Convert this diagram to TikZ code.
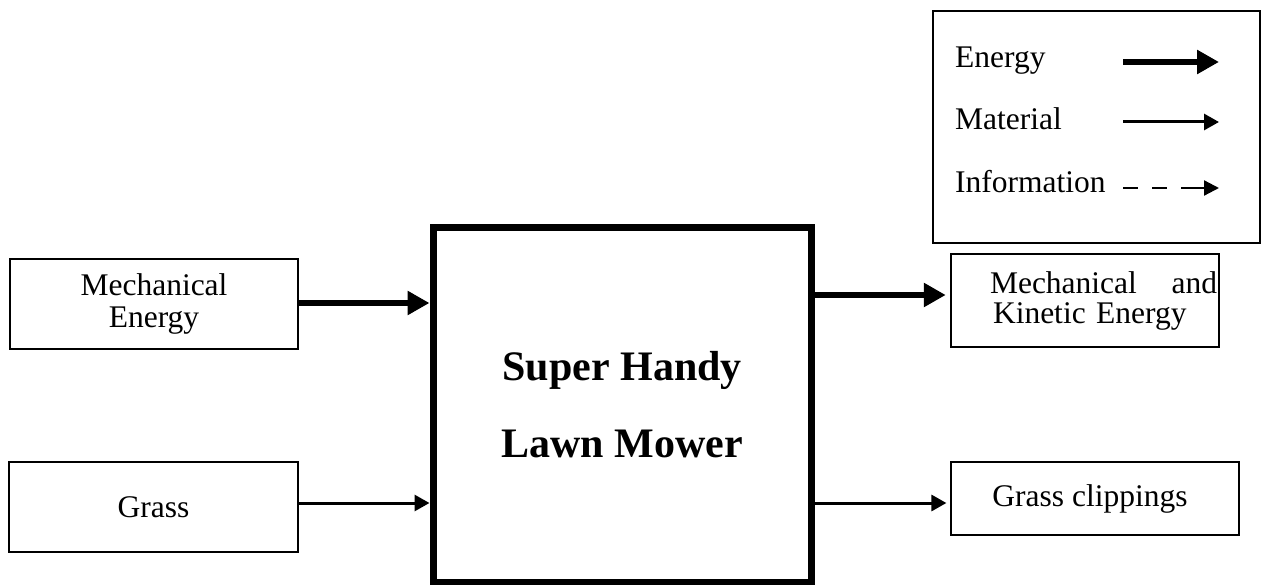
\documentclass[tikz,border=0pt]{standalone}
\usepackage{fontspec}
\setmainfont{Liberation Serif}
\usetikzlibrary{arrows.meta}
\begin{document}
\begin{tikzpicture}[x=1pt,y=-1pt,
  box/.style={draw, line width=1.2pt, inner sep=0pt, align=center,
    font=\fontsize{31.5}{32}\selectfont},
  legtext/.style={anchor=base west, inner sep=0pt, font=\fontsize{31.5}{32}\selectfont},
  energy/.style={line width=6pt, -{Triangle[length=22pt,width=23pt]}},
  material/.style={line width=3pt, -{Triangle[length=15pt,width=16pt]}},
  info/.style={line width=2.2pt, dash pattern=on 15pt off 14pt on 15pt off 14pt on 40pt off 1pt,
    -{Triangle[length=15pt,width=15pt]}}]
\useasboundingbox (0,0) rectangle (1266,585);

% legend
\node[draw, line width=2.5pt, minimum width=327pt, minimum height=232pt, inner sep=0pt] (legend) at (1096.5,127) {};
\node[legtext] (lenergy) at (955,68) {Energy};
\node[legtext] (lmaterial) at (955,130) {Material};
\node[legtext] (linfo) at (955,193) {Information};
\coordinate (e1) at (1123,62);  \coordinate (e2) at (1219,62);
\coordinate (m1) at (1123,122); \coordinate (m2) at (1219,122);
\coordinate (i1) at (1123,188); \coordinate (i2) at (1219,188);
\draw[energy] (e1) -- (e2);
\draw[material] (m1) -- (m2);
\draw[info] (i1) -- (i2);

% main block
\node[draw, line width=7pt, outer sep=3.5pt, minimum width=378.5pt, minimum height=354.5pt,
  inner sep=0pt, align=center, font=\fontsize{42}{77}\selectfont\bfseries] (main) at (622.25,404.75)
  {Super Handy\\Lawn Mower};

% inputs
\node[box, minimum width=288pt, minimum height=90pt] (mech) at (154,304) {Mechanical\\Energy};
\node[box, minimum width=289pt, minimum height=90pt] (grass) at (153.5,507) {Grass};

% outputs
\node[draw, line width=2.5pt, minimum height=93pt, inner sep=0pt, text width=268pt, align=left,
  font=\fontsize{31.5}{30}\selectfont] (mke) at (1085,300.5)
  {\hspace*{39pt}\hbox to 227pt{Mechanical\hfill and}\\\hspace*{42pt}Kinetic Energy};
\node[box, minimum width=288pt, minimum height=73pt] (clip) at (1095,498.5) {\hspace*{-10pt}Grass clippings};

% connectors
\draw[energy] ([yshift=1pt]mech.east) -- ([yshift=1pt]mech.east -| main.west);
\draw[material] ([yshift=4pt]grass.east) -- ([yshift=4pt]grass.east -| main.west);
\draw[energy, shorten >=4pt] ([yshift=5.5pt]mke.west -| main.east) -- ([yshift=5.5pt]mke.west);
\draw[material, shorten >=4pt] ([yshift=-4.5pt]clip.west -| main.east) -- ([yshift=-4.5pt]clip.west);
\end{tikzpicture}
\end{document}
